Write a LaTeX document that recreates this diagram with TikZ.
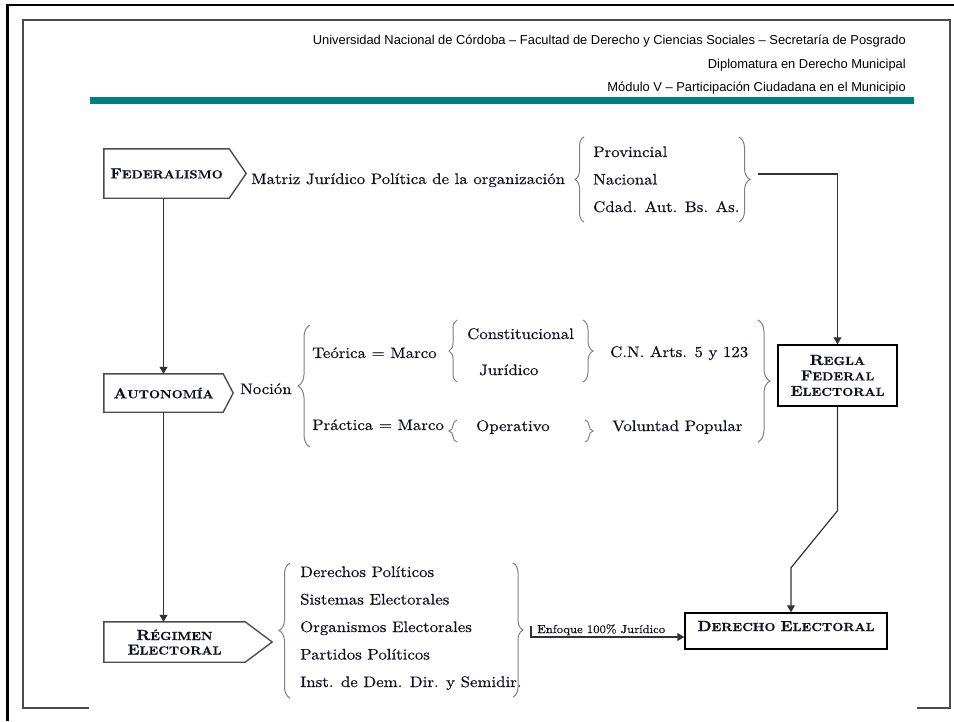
\documentclass[tikz,border=0pt]{standalone}
\usepackage{fontspec}
\usetikzlibrary{arrows.meta,decorations.pathreplacing,calc}
\newfontfamily\hdrfont{Liberation Sans}
\newfontfamily\diafont{lmroman10-regular}[Extension=.otf,BoldFont=lmroman10-bold,FakeStretch=1.1,FakeBold=0.4]
\definecolor{ink}{RGB}{15,15,35}
% fake bold small caps: big initial, small rest
\newcommand{\smcap}[2]{{\fontsize{14.6}{15.5}\selectfont #1}{\fontsize{11.7}{15.5}\selectfont #2}}

\begin{document}
\begin{tikzpicture}[x=1pt,y=-1pt,
    txt/.style={font=\diafont\fontsize{15.3}{18}\selectfont, text=ink, inner sep=0pt},
    hdr/.style={font=\hdrfont\fontsize{12.9}{15}\selectfont, inner sep=0pt, anchor=base east},
    sigbox/.style={font=\diafont\bfseries\fontsize{11.7}{14.5}\selectfont, text=ink, align=center, inner sep=0pt},
    flowbox/.style={draw=black, line width=1.5pt, font=\diafont\bfseries\fontsize{11.7}{15.5}\selectfont, text=ink, align=center, inner sep=0pt},
    conn/.style={draw=black!80, line width=1.2pt, -{Triangle[length=7pt,width=8pt]}},
    brc/.style={draw=gray, line width=1pt, decorate, decoration={brace,amplitude=#1}},
    brc/.default=9pt]
    \useasboundingbox (0,0) rectangle (954,721);

    % Page frame
    \draw[line width=2.5pt] (7.5,721) -- (7.5,5) -- (954,5);
    \draw[black!70, line width=1.3pt] (89,708) -- (23,708) -- (23,20) -- (950,20) -- (950,708) -- (917,708);

    % Header
    \node[hdr] (h1) at (906,44) {Universidad Nacional de Córdoba – Facultad de Derecho y Ciencias Sociales – Secretaría de Posgrado};
    \node[hdr] (h2) at (906,68) {Diplomatura en Derecho Municipal};
    \node[hdr] (h3) at (906,91) {Módulo V – Participación Ciudadana en el Municipio};
    \fill[teal] (90,97) rectangle (914,104);

    % Left column boxes
    \node[sigbox, minimum width=125pt, minimum height=49pt] (fed) at (166.5,173.5) {\smcap{F}{EDERALISMO}};
    \node[sigbox, minimum width=119pt, minimum height=38pt] (aut) at (163.5,393) {\smcap{A}{UTONOMÍA}};
    \node[sigbox, minimum width=141pt, minimum height=40pt] (reg) at (174.5,642) {\smcap{R}{ÉGIMEN}\\\smcap{E}{LECTORAL}};
    \foreach \bx/\ext in {fed/17, aut/10, reg/27} {
        \draw[black!70, line width=1.4pt] (\bx.north west) -- (\bx.north east) -- ($(\bx.east)+(\ext,0)$) -- (\bx.south east) -- (\bx.south west) -- cycle;
      }

    % Right column boxes
    \node[flowbox, minimum width=119pt, minimum height=61pt] (regla) at (837.5,375.5) {\smcap{R}{EGLA}\\\smcap{F}{EDERAL}\\\smcap{E}{LECTORAL}};
    \node[flowbox, minimum width=202pt, minimum height=36pt, text depth=10pt] (der) at (786,631) {\smcap{D}{ERECHO} \smcap{E}{LECTORAL}};

    % Federalismo
    \node[txt, anchor=base west] (matriz) at (251,184) {Matriz Jurídico Política de la organización};
    \draw[brc=9pt] (584,222) -- (584,137);
    \foreach \t [count=\i] in {Provincial, Nacional, Cdad. Aut. Bs. As.} {
        \node[txt, anchor=base west] (mt\i) at (593,{129.5+27.5*\i}) {\t};
      }
    \draw[brc=11pt] (739,137) -- (739,222);
    \coordinate (mout) at (758,174);

    % Autonomia
    \node[txt, anchor=base west] (noc) at (240,394) {Noción};
    \draw[brc=12pt] (310,447) -- (310,325);
    \node[txt, anchor=base west] (teo) at (312,358) {Teórica = Marco};
    \node[txt, anchor=base west] (pra) at (312,430) {Práctica = Marco};
    \draw[brc=8pt] (457,382) -- (457,320);
    \node[txt, anchor=base west] (cons) at (467,339) {Constitucional};
    \node[txt, anchor=base west] (jur) at (479,375) {Jurídico};
    \draw[brc=10pt] (583,320) -- (583,382);
    \node[txt, anchor=base west] (cn) at (610,357) {C.N. Arts. 5 y 123};
    \draw[brc=8pt] (457,442) -- (457,420);
    \node[txt, anchor=base west] (ope) at (476,431) {Operativo};
    \draw[brc=8pt] (585,420) -- (585,442);
    \node[txt, anchor=base west] (vol) at (612,431) {Voluntad Popular};
    \draw[brc=12pt] (758,320) -- (758,442);

    % Regimen electoral
    \draw[brc=11pt] (290,698) -- (290,563);
    \foreach \t [count=\i] in {Derechos Políticos, Sistemas Electorales, Organismos Electorales, Partidos Políticos, Inst. de Dem. Dir. y Semidir.} {
        \node[txt, anchor=base west] (ri\i) at (300,{549.5+27.5*\i}) {\t};
      }
    \draw[brc=10pt] (513,563) -- (513,697);
    \coordinate (etick) at (531,626);
    \node[txt, font=\diafont\fontsize{11.5}{13}\selectfont, anchor=base west] (enf) at (537,633) {Enfoque 100\% Jurídico};

    % Connectors
    \draw[conn] (fed.south -| aut.north) -- (aut.north);
    \draw[conn] (aut.south) -- (aut.south |- reg.north);
    \draw[conn] (mout) -| (regla.north);
    \draw[conn] (regla.south) -- ++(0,104) -- ++(-46.5,57) -- ([xshift=5pt]der.north);
    \draw[conn] (etick) |- ([yshift=-6pt]der.west);
  \end{tikzpicture}
\end{document}
